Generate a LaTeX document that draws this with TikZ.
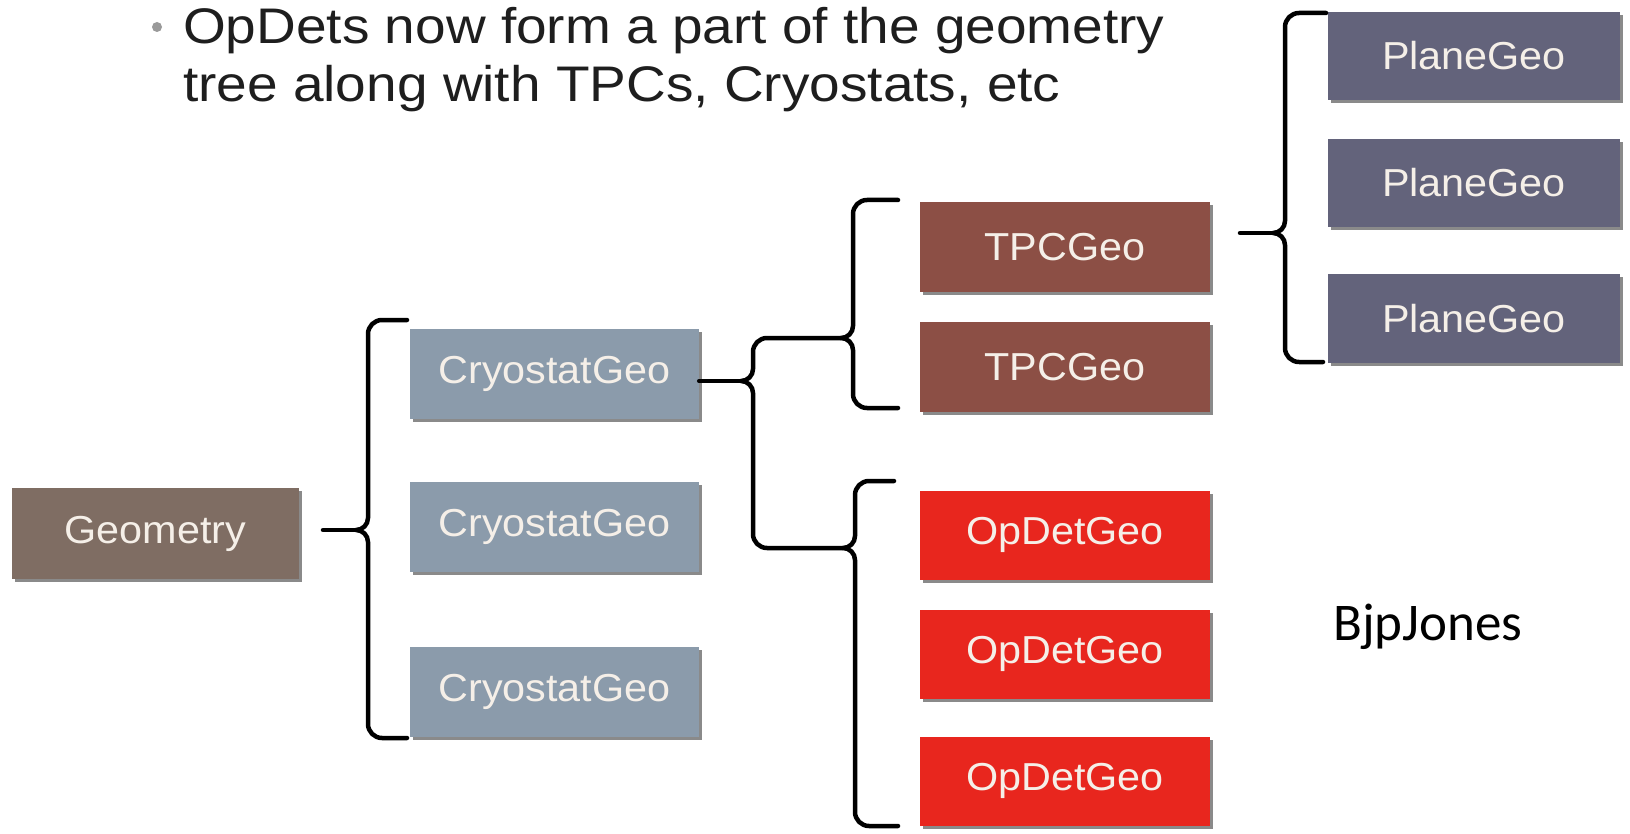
\documentclass[tikz,border=0pt]{standalone}
\usepackage{fontspec}
\setmainfont{Liberation Sans}
\newfontfamily\titlefont[FakeStretch=1.1]{Liberation Sans}
\newfontfamily\boxfont[FakeStretch=1.06]{Liberation Sans}
\newfontfamily\signfont{Carlito}
\usetikzlibrary{shadows}
\definecolor{geocol}{HTML}{7F6D63}
\definecolor{cryocol}{HTML}{8B9BAB}
\definecolor{tpccol}{HTML}{8C4F45}
\definecolor{opdetcol}{HTML}{E8261E}
\definecolor{planecol}{HTML}{63637B}
\definecolor{boxtext}{HTML}{F5EFE8}
\definecolor{titlecol}{HTML}{1E1E1E}
\definecolor{bulletcol}{HTML}{9A9A9A}
\definecolor{shadowcol}{HTML}{8A8A8A}
\newcommand{\drawbrace}[6]{% #1 spine x, #2 top y, #3 cusp y, #4 bottom y, #5 top end x, #6 bottom end x
  \draw[br] (#5,#2) -- ({#1+14},#2) to[out=180,in=90] (#1,{#2+14}) -- (#1,{#3-12})
    to[out=-90,in=0] ({#1-12},#3) to[out=0,in=90] (#1,{#3+12}) -- (#1,{#4-14})
    to[out=-90,in=180] ({#1+14},#4) -- (#6,#4);
}
\begin{document}
\begin{tikzpicture}[x=1pt,y=-1pt,
  geobox/.style={rectangle, inner sep=0pt, text=boxtext,
    font=\boxfont\fontsize{39}{44}\selectfont,
    drop shadow={shadow xshift=3pt,shadow yshift=-3pt,fill=shadowcol,opacity=1}},
  wide/.style={geobox, minimum width=290pt, minimum height=90pt},
  br/.style={draw=black, line width=4.5pt, line cap=round, line join=round},
  titletext/.style={anchor=base west, inner sep=0pt, text=titlecol,
    font=\titlefont\fontsize{50}{60}\selectfont}
]
\path[use as bounding box, fill=white] (0,0) rectangle (1630,834);

% title
\node[circle, fill=bulletcol, minimum size=10pt, inner sep=0pt] (bullet) at (157,27) {};
\node[titletext] (title1) at (183,44) {OpDets now form a part of the geometry};
\node[titletext] (title2) at (183,102) {tree along with TPCs, Cryostats, etc};

% boxes
\node[wide, fill=geocol, minimum width=287pt, minimum height=91pt] (geo) at (155.5,533.5) {Geometry};

\node[wide, fill=cryocol, minimum width=289pt] (cryo1) at (554.5,373.5) {CryostatGeo};
\node[wide, fill=cryocol, minimum width=289pt] (cryo2) at (554.5,527) {CryostatGeo};
\node[wide, fill=cryocol, minimum width=289pt] (cryo3) at (554.5,692) {CryostatGeo};

\node[wide, fill=tpccol] (tpc1) at (1065,247.5) {TPCGeo};
\node[wide, fill=tpccol] (tpc2) at (1065,367) {TPCGeo};

\node[wide, fill=opdetcol, minimum height=89pt] (op1) at (1065,535) {OpDetGeo};
\node[wide, fill=opdetcol, minimum height=89pt] (op2) at (1065,654) {OpDetGeo};
\node[wide, fill=opdetcol, minimum height=89pt] (op3) at (1065,781) {OpDetGeo};

\node[wide, fill=planecol, minimum width=292pt, minimum height=88pt] (pl1) at (1474,56) {PlaneGeo};
\node[wide, fill=planecol, minimum width=292pt, minimum height=88pt] (pl2) at (1474,183) {PlaneGeo};
\node[wide, fill=planecol, minimum width=292pt, minimum height=88pt] (pl3) at (1474,318.5) {PlaneGeo};

% signature
\node[anchor=base west, inner sep=0pt, font=\signfont\fontsize{53}{60}\selectfont] (sign) at (1333,640) {BjpJones};

% brace cusps and stem starts
\coordinate (gcusp) at (356,530);
\coordinate (gstem) at (323,530);
\coordinate (ccusp) at (741,381);
\coordinate (tcusp) at (841,338);
\coordinate (ocusp) at (843,548);
\coordinate (pcusp) at (1273,233);
\coordinate (pstem) at (1240,233);

% stems
\draw[br] (gstem) -- (gcusp);
\draw[br] (cryo1.east |- ccusp) -- (ccusp);
\draw[br] (pstem) -- (pcusp);

% braces
\drawbrace{368}{320}{530}{738}{407}{407}
\drawbrace{753}{338}{381}{548}{841}{843}
\drawbrace{853}{200}{338}{408}{898}{898}
\drawbrace{855}{481}{548}{826}{894}{898}
\drawbrace{1285}{13}{233}{362}{1326}{1323}
\end{tikzpicture}
\end{document}
